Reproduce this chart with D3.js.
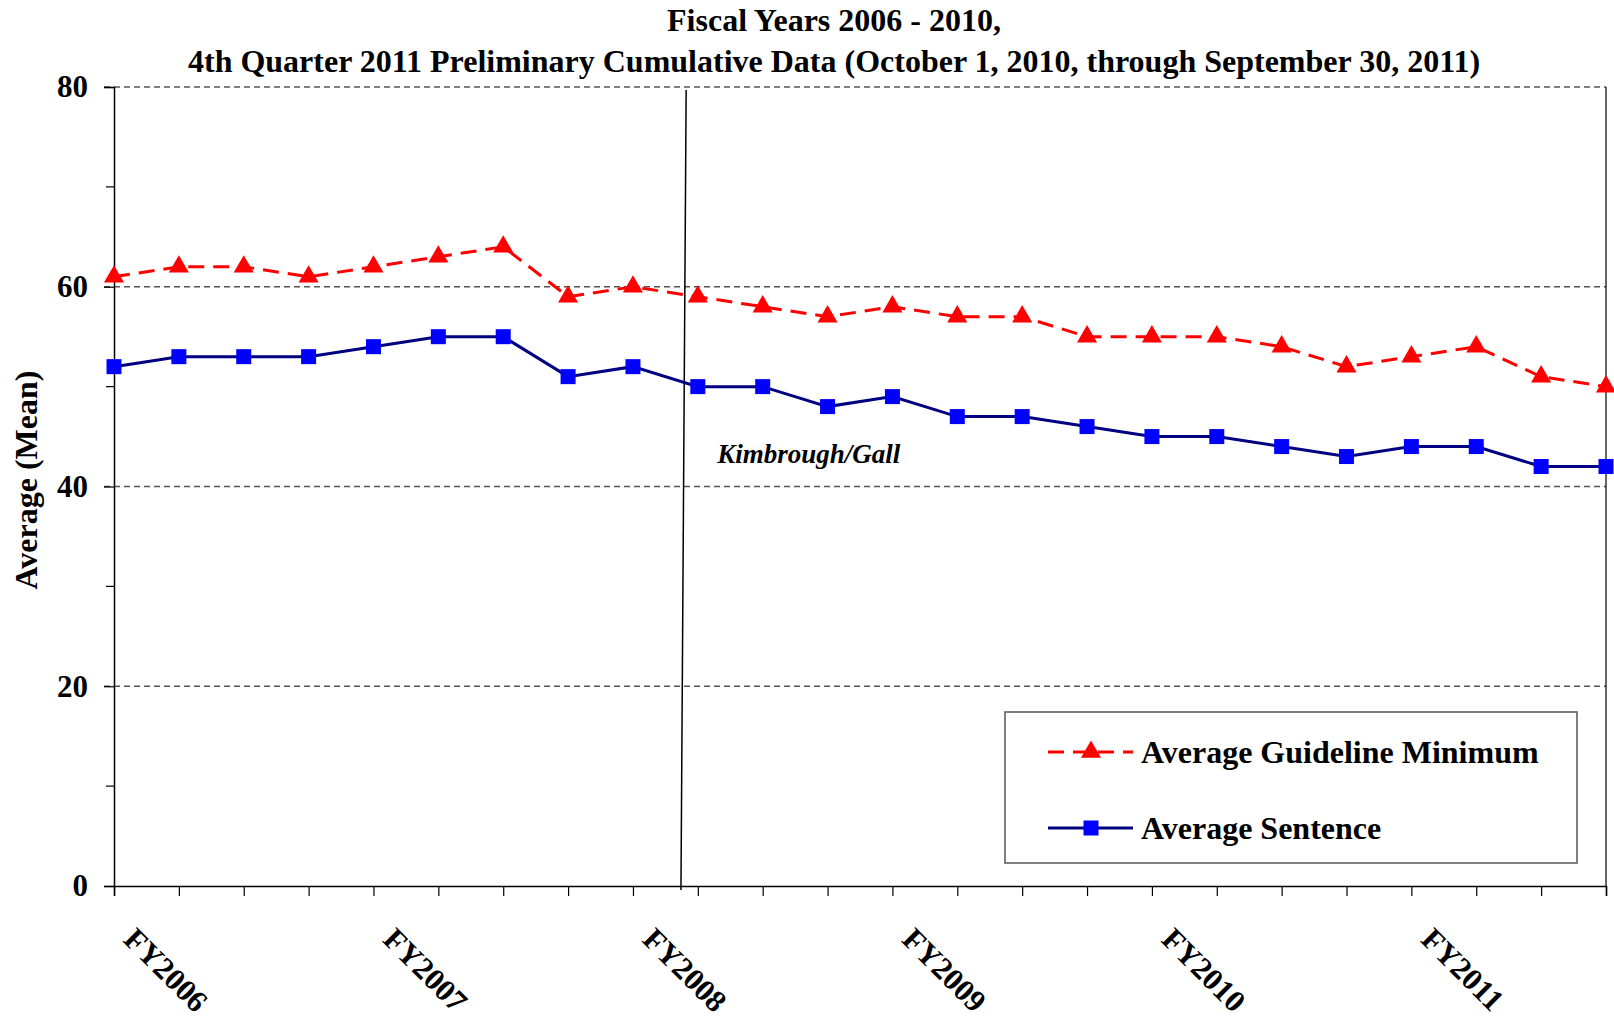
<!DOCTYPE html>
<html>
<head>
<meta charset="utf-8">
<script src="https://cdn.jsdelivr.net/npm/d3@7"></script>
<style>
  html, body { margin: 0; padding: 0; background: #fff; }
  svg { display: block; }
  text { font-family: "Liberation Serif", "Times New Roman", serif; font-weight: bold; fill: #000; }
</style>
</head>
<body>
<svg id="chart" width="1614" height="1018"></svg>
<script>
// quarters FY2006 Q1 .. FY2011 Q4
const YEARS = ["FY2006", "FY2007", "FY2008", "FY2009", "FY2010", "FY2011"];
const QUARTERS = YEARS.flatMap(y => ["Q1", "Q2", "Q3", "Q4"].map(q => `${y} ${q}`));

const guidelineMin = [61, 62, 62, 61, 62, 63, 64, 59, 60, 59, 58, 57, 58, 57, 57, 55, 55, 55, 54, 52, 53, 54, 51, 50];
const avgSentence  = [52, 53, 53, 53, 54, 55, 55, 51, 52, 50, 50, 48, 49, 47, 47, 46, 45, 45, 44, 43, 44, 44, 42, 42];

const Y_TICKS = [0, 20, 40, 60, 80];
const Y_MINOR = [10, 30, 50, 70];

const TITLE_LINES = [
  "Fiscal Years 2006 - 2010,",
  "4th Quarter 2011 Preliminary Cumulative Data (October 1, 2010, through September 30, 2011)"
];

// Kimbrough/Gall marker, in quarter-index / value units
const kgLine = { x0: 8.82, y0: 79.7, x1: 8.74, y1: -0.4 };
const kgLabel = { x: 9.3, y: 42.4, text: "Kimbrough/Gall" };

const FONT = 30;      // tick labels
const BIG_FONT = 32;  // title, axis title, legend
const svg = d3.select("#chart");

const plotLeft = 114, plotRight = 1606, plotTop = 87, plotBottom = 886;

const x = d3.scalePoint().domain(QUARTERS).range([plotLeft, plotRight]);
const xi = d3.scaleLinear().domain([0, QUARTERS.length - 1]).range([plotLeft, plotRight]);
const y = d3.scaleLinear().domain([0, 80]).range([plotBottom, plotTop]);

// title
svg.append("g").selectAll("text")
  .data(TITLE_LINES)
  .join("text")
  .attr("x", 834)
  .attr("y", (d, i) => i === 0 ? 31 : 72)
  .attr("text-anchor", "middle")
  .style("font-size", BIG_FONT + "px")
  .text(d => d);

// gridlines (dashed)
svg.append("g").selectAll("line")
  .data(Y_TICKS.filter(v => v > 0))
  .join("line")
  .attr("x1", plotLeft - 10).attr("x2", plotRight)
  .attr("y1", d => y(d)).attr("y2", d => y(d))
  .attr("stroke", "#555")
  .attr("stroke-width", 1.3)
  .attr("stroke-dasharray", "6,4");

// right border
svg.append("line")
  .attr("x1", plotRight).attr("x2", plotRight)
  .attr("y1", y(80)).attr("y2", y(0))
  .attr("stroke", "#000").attr("stroke-width", 1.2);

// y axis
const yAxis = d3.axisLeft(y).tickValues(Y_TICKS).tickSize(10).tickPadding(16).tickFormat(d3.format("d"));
const gy = svg.append("g").attr("transform", `translate(${plotLeft},0)`).call(yAxis);
gy.select(".domain").attr("stroke", "#000").attr("stroke-width", 1.5);
gy.selectAll(".tick line").attr("stroke", "#000").attr("stroke-width", 1.2);
gy.selectAll(".tick text")
  .style("font-family", '"Liberation Serif", "Times New Roman", serif')
  .style("font-weight", "bold")
  .style("font-size", "31px")
  .attr("fill", "#000");
svg.append("g").selectAll("line")
  .data(Y_MINOR)
  .join("line")
  .attr("x1", plotLeft - 8).attr("x2", plotLeft)
  .attr("y1", d => y(d)).attr("y2", d => y(d))
  .attr("stroke", "#000").attr("stroke-width", 1.2);

// y label
svg.append("text")
  .attr("transform", "translate(37,480) rotate(-90)")
  .attr("text-anchor", "middle")
  .style("font-size", BIG_FONT + "px")
  .text("Average (Mean)");

// x axis
const xAxis = d3.axisBottom(x).tickSize(10).tickFormat("");
const gx = svg.append("g").attr("transform", `translate(0,${plotBottom})`).call(xAxis);
gx.select(".domain").attr("stroke", "#000").attr("stroke-width", 1.5);
gx.selectAll(".tick line").attr("stroke", "#000").attr("stroke-width", 1.2);

svg.append("g").selectAll("text")
  .data(QUARTERS.filter(q => q.endsWith("Q1")))
  .join("text")
  .attr("transform", d => `translate(${x(d) + 8},${plotBottom + 55}) rotate(45)`)
  .style("font-size", "31px")
  .text(d => d.split(" ")[0]);

// Kimbrough/Gall line + label
svg.append("line")
  .attr("x1", xi(kgLine.x0)).attr("y1", y(kgLine.y0))
  .attr("x2", xi(kgLine.x1)).attr("y2", y(kgLine.y1))
  .attr("stroke", "#000").attr("stroke-width", 1.5);
svg.append("text")
  .attr("x", xi(kgLabel.x)).attr("y", y(kgLabel.y))
  .style("font-size", "27px")
  .style("font-style", "italic")
  .text(kgLabel.text);

// series
const line = d3.line().x((d, i) => x(QUARTERS[i])).y(d => y(d));

svg.append("path")
  .datum(avgSentence)
  .attr("d", line)
  .attr("fill", "none")
  .attr("stroke", "#000080")
  .attr("stroke-width", 3);

svg.append("path")
  .datum(guidelineMin)
  .attr("d", line)
  .attr("fill", "none")
  .attr("stroke", "#ff0000")
  .attr("stroke-width", 3)
  .attr("stroke-dasharray", "16,9");

const SQ = 15;
svg.append("g").selectAll("rect")
  .data(avgSentence)
  .join("rect")
  .attr("x", (d, i) => x(QUARTERS[i]) - SQ / 2)
  .attr("y", d => y(d) - SQ / 2)
  .attr("width", SQ).attr("height", SQ)
  .attr("fill", "#0000ff");

const tri = d3.symbol().type(d3.symbolTriangle).size(175);
svg.append("g").selectAll("path")
  .data(guidelineMin)
  .join("path")
  .attr("transform", (d, i) => `translate(${x(QUARTERS[i])},${y(d)})`)
  .attr("d", tri)
  .attr("fill", "#ff0000");

// legend
const legend = svg.append("g");
legend.append("rect")
  .attr("x", 1005).attr("y", 712)
  .attr("width", 572).attr("height", 151)
  .attr("fill", "#fff")
  .attr("stroke", "#555").attr("stroke-width", 1.5);

const legendItems = [
  { label: "Average Guideline Minimum", color: "#ff0000", marker: "#ff0000", dash: "16,9", kind: "tri", cy: 752 },
  { label: "Average Sentence", color: "#000080", marker: "#0000ff", dash: null, kind: "sq", cy: 828 }
];
legendItems.forEach(it => {
  legend.append("line")
    .attr("x1", 1048).attr("x2", 1133)
    .attr("y1", it.cy).attr("y2", it.cy)
    .attr("stroke", it.color).attr("stroke-width", 3)
    .attr("stroke-dasharray", it.dash);
  if (it.kind === "tri") {
    legend.append("path")
      .attr("transform", `translate(1091,${it.cy})`)
      .attr("d", tri).attr("fill", it.marker);
  } else {
    legend.append("rect")
      .attr("x", 1091 - SQ / 2).attr("y", it.cy - SQ / 2)
      .attr("width", SQ).attr("height", SQ)
      .attr("fill", it.marker);
  }
  legend.append("text")
    .attr("x", 1141).attr("y", it.cy + 11)
    .style("font-size", BIG_FONT + "px")
    .text(it.label);
});
</script>
</body>
</html>
